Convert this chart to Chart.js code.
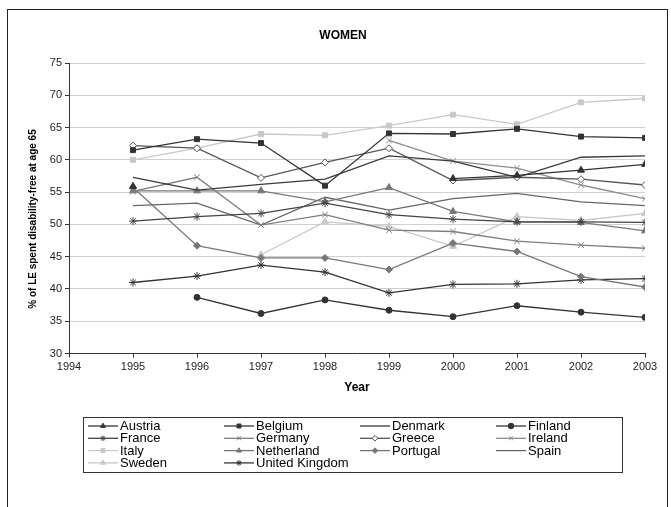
<!DOCTYPE html>
<html>
<head>
<meta charset="utf-8">
<script src="https://cdn.jsdelivr.net/npm/chart.js@4.4.0/dist/chart.umd.min.js"></script>
<style>
  html, body { margin: 0; padding: 0; background: #fff; }
  #wrap { width: 671px; height: 507px; }
</style>
</head>
<body>
<div id="wrap"><canvas id="c" width="671" height="507"></canvas></div>
<script>
const years = [1995, 1996, 1997, 1998, 1999, 2000, 2001, 2002, 2003];

const austria     = [55.9, null, null, null, null, 57.1, 57.6, 58.4, 59.3];
const belgium     = [61.5, 63.2, 62.6, 56.0, 64.1, 64.0, 64.8, 63.6, 63.4];
const denmark     = [57.3, 55.3, 56.2, 57.0, 60.6, 59.8, 57.3, 60.4, 60.6];
const finland     = [null, 38.7, 36.2, 38.3, 36.7, 35.7, 37.4, 36.4, 35.6];
const france      = [50.5, 51.2, 51.7, 53.3, 51.5, 50.8, 50.4, 50.4, 50.3];
const germany     = [55.1, 57.3, 49.9, 51.5, 49.1, 48.9, 47.4, 46.8, 46.3];
const greece      = [62.2, 61.8, 57.2, 59.6, 61.8, 56.8, 57.3, 57.0, 56.1];
const ireland     = [null, null, null, null, 63.0, 59.8, 58.7, 56.1, 54.0];
const italy       = [60.0, 61.8, 64.0, 63.8, 65.3, 67.0, 65.5, 68.9, 69.5];
const netherland  = [55.2, 55.2, 55.2, 53.5, 55.7, 52.0, 50.4, 50.3, 49.0];
const portugal    = [55.7, 46.7, 44.8, 44.8, 43.0, 47.1, 45.8, 41.9, 40.3];
const spain       = [52.9, 53.3, 49.9, 54.2, 52.2, 54.0, 54.8, 53.5, 52.9];
const sweden      = [null, null, 45.3, 50.4, 49.7, 46.6, 51.2, 50.6, 51.7];
const unitedKingdom = [41.0, 42.0, 43.7, 42.6, 39.4, 40.7, 40.8, 41.4, 41.6];

const yTicks = { min: 30, max: 75, step: 5 };
const xTicks = { min: 1994, max: 2003, step: 1 };

const FONT = 'Arial, "Liberation Sans", sans-serif';

// marker size per point style, roughly as in the Excel original
const radius = { triangle: 4, rect: 3.5, rectRot: 3.5, circle: 3, star: 4, crossRot: 4 };

function series(label, values, color, style, fill) {
  return {
    label: label,
    data: values.map((v, i) => ({ x: years[i], y: v })),
    borderColor: color,
    backgroundColor: fill || color,
    pointBackgroundColor: fill || color,
    pointBorderColor: color,
    pointStyle: style || 'circle',
    pointRadius: style ? radius[style] : 0,
    pointBorderWidth: 1,
    borderWidth: 1.3,
    tension: 0,
    spanGaps: false
  };
}

const datasets = [
  series('Austria', austria, '#333333', 'triangle'),
  series('Belgium', belgium, '#333333', 'rect'),
  series('Denmark', denmark, '#3a3a3a'),
  series('Finland', finland, '#333333', 'circle'),
  series('France', france, '#444444', 'star'),
  series('Germany', germany, '#7e7e7e', 'crossRot'),
  series('Greece', greece, '#555555', 'rectRot', '#ffffff'),
  series('Ireland', ireland, '#8c8c8c', 'crossRot'),
  series('Italy', italy, '#c8c8c8', 'rect'),
  series('Netherland', netherland, '#777777', 'triangle'),
  series('Portugal', portugal, '#777777', 'rectRot'),
  series('Spain', spain, '#666666'),
  series('Sweden', sweden, '#c8c8c8', 'triangle'),
  series('United Kingdom', unitedKingdom, '#333333', 'star')
];

// frame, title, y title and the boxed 4-column legend
const extras = {
  id: 'extras',
  beforeDraw(chart) {
    const ctx = chart.ctx;
    ctx.save();
    ctx.fillStyle = '#fff';
    ctx.fillRect(0, 0, chart.width, chart.height);
    ctx.restore();
  },
  afterDraw(chart) {
    const ctx = chart.ctx;
    ctx.save();
    ctx.strokeStyle = '#222';
    ctx.lineWidth = 1;
    ctx.strokeRect(7.5, 9.5, 660, 505);

    ctx.fillStyle = '#000';
    ctx.textAlign = 'center';
    ctx.textBaseline = 'middle';
    ctx.font = 'bold 12px ' + FONT;
    ctx.fillText('WOMEN', 343, 36);

    ctx.save();
    ctx.translate(33, 219);
    ctx.rotate(-Math.PI / 2);
    ctx.font = 'bold 10px ' + FONT;
    ctx.fillText('% of LE spent disability-free at age 65', 0, 0);
    ctx.restore();

    // legend
    ctx.strokeStyle = '#333';
    ctx.strokeRect(83.5, 417.5, 539, 55);
    ctx.font = '13px ' + FONT;
    ctx.textAlign = 'left';
    chart.data.datasets.forEach((ds, i) => {
      const tx = 120 + (i % 4) * 136;
      const ty = 426 + Math.floor(i / 4) * 12.3;
      ctx.strokeStyle = ds.borderColor;
      ctx.lineWidth = 1.3;
      ctx.beginPath();
      ctx.moveTo(tx - 32, ty);
      ctx.lineTo(tx - 2, ty);
      ctx.stroke();
      if (ds.pointRadius > 0) {
        ctx.fillStyle = ds.pointBackgroundColor;
        ctx.lineWidth = 1;
        Chart.helpers.drawPoint(ctx, { pointStyle: ds.pointStyle, radius: 2.8, rotation: 0, borderWidth: 1 }, tx - 17, ty);
      }
      ctx.fillStyle = '#000';
      ctx.fillText(ds.label, tx, ty + 0.5);
    });
    ctx.restore();
  }
};

new Chart(document.getElementById('c').getContext('2d'), {
  type: 'line',
  data: { datasets: datasets },
  plugins: [extras],
  options: {
    responsive: false,
    animation: false,
    layout: { padding: { left: 20, right: 26, top: 63, bottom: 108.5 } },
    plugins: {
      legend: { display: false },
      tooltip: { enabled: false },
      title: { display: false }
    },
    scales: {
      x: {
        type: 'linear',
        min: xTicks.min,
        max: xTicks.max,
        afterFit: (scale) => { scale.height = 45; },
        ticks: {
          stepSize: xTicks.step,
          callback: (v) => String(v),
          color: '#222',
          font: { family: FONT, size: 11 },
          padding: 3,
          maxRotation: 0
        },
        grid: { drawOnChartArea: false, tickLength: 4, tickColor: '#333' },
        border: { color: '#333', width: 1 },
        title: {
          display: true,
          text: 'Year',
          color: '#000',
          font: { family: FONT, size: 12, weight: 'bold' },
          padding: { top: 0, bottom: 4 }
        }
      },
      y: {
        min: yTicks.min,
        max: yTicks.max,
        afterFit: (scale) => { scale.width = 49; },
        ticks: {
          stepSize: yTicks.step,
          color: '#222',
          font: { family: FONT, size: 11 },
          padding: 3
        },
        grid: { color: '#d0d0d0', tickLength: 4, tickColor: '#333' },
        border: { color: '#333', width: 1 }
      }
    }
  }
});
</script>
</body>
</html>
